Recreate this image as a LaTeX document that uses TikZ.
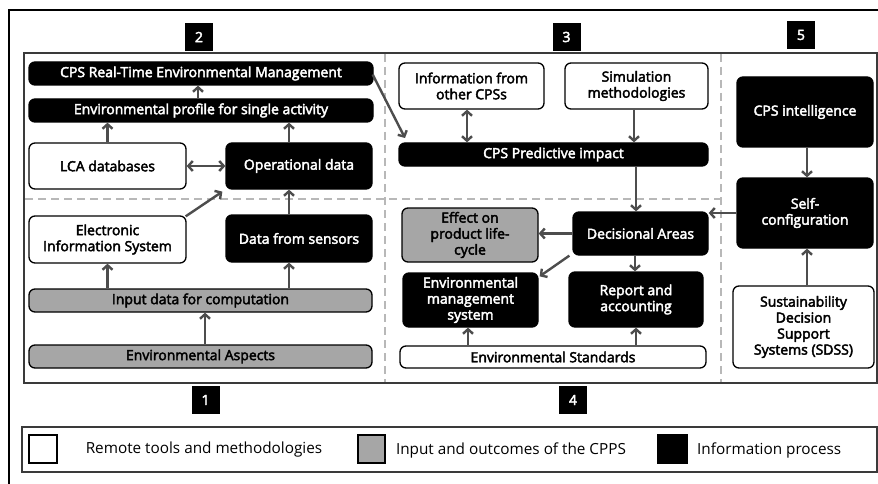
\documentclass[tikz,border=0pt]{standalone}
\usepackage{fontspec}
\setmainfont{Open Sans}
\newfontfamily\boxf{Open Sans}[FakeBold=3]
\usetikzlibrary{arrows.meta,calc}
\definecolor{arrc}{HTML}{4D4D4D}
\definecolor{gfill}{HTML}{A6A6A6}
\definecolor{dashc}{HTML}{B8B8B8}
\definecolor{framec}{HTML}{3A3A3A}
\begin{document}
\begin{tikzpicture}[x=1pt,y=-1pt,
  base/.style={rounded corners=6pt, line width=1.3pt, align=center, inner sep=1pt,
    font=\boxf\fontsize{14}{16}\selectfont},
  wbox/.style={base, draw=black, fill=white},
  gbox/.style={base, draw=black, fill=gfill},
  bbox/.style={base, draw=black, fill=black, text=white},
  arr/.style={draw=arrc, line width=2.4pt, -{Straight Barb[length=4.5pt,width=10pt]}},
  darr/.style={draw=arrc, line width=2.4pt, {Straight Barb[length=4.5pt,width=10pt]}-{Straight Barb[length=4.5pt,width=10pt]}},
  numbox/.style={fill=black, text=white, minimum width=28pt, minimum height=28pt, inner sep=0pt,
    font=\boxf\fontsize{14}{16}\selectfont},
  divider/.style={draw=dashc, line width=1.8pt, dash pattern=on 8pt off 5pt},
  legsq/.style={draw=black, line width=1.3pt},
  legtxt/.style={font=\fontsize{15.3}{18}\selectfont, inner sep=0pt}
]
\useasboundingbox (0,0) rectangle (878,484);
\fill[white] (0,0) rectangle (878,484);
% outer lines
\draw[line width=2.5pt] (9,484) -- (9,10) -- (878,10);
% main frame
\draw[framec, line width=1.5pt] (24,53) rectangle (877,383);
% dividers
\draw[divider] (385,54) -- (385,382);
\draw[divider] (721,54) -- (721,382);
\draw[divider] (25,199) -- (721,199);
% number labels
\node[numbox] (n2) at (199,37) {2};
\node[numbox] (n3) at (566.5,37) {3};
\node[numbox] (n5) at (801,35) {5};
\node[numbox] (n1) at (205.5,400) {1};
\node[numbox] (n4) at (573,400) {4};

% region 1/2
\node[bbox, minimum width=344pt, minimum height=23pt] (rt) at (201,73.5) {CPS Real-Time Environmental Management};
\node[bbox, minimum width=344pt, minimum height=23pt] (prof) at (201,110.5) {Environmental profile for single activity};
\node[wbox, minimum width=157pt, minimum height=46pt] (lca) at (107.5,166) {LCA databases};
\node[bbox, minimum width=146pt, minimum height=46pt] (op) at (299,166) {Operational data};
\node[wbox, minimum width=157pt, minimum height=47pt] (eis) at (107.5,239.5) {Electronic\\Information System};
\node[bbox, minimum width=146pt, minimum height=47pt] (sens) at (299,238.5) {Data from sensors};
\node[gbox, minimum width=343pt, minimum height=23pt] (inp) at (200.5,300.5) {Input data for computation};
\node[gbox, minimum width=343pt, minimum height=23pt] (asp) at (200.5,356.5) {Environmental Aspects};

% region 3/4
\node[wbox, minimum width=145pt, minimum height=46pt] (info) at (471.5,86) {Information from\\other CPSs};
\node[wbox, minimum width=143pt, minimum height=46pt] (sim) at (636.5,86) {Simulation\\methodologies};
\node[bbox, minimum width=309pt, minimum height=23pt] (pred) at (553.5,154.5) {CPS Predictive impact};
\node[bbox, minimum width=135pt, minimum height=43pt] (dec) at (640.5,233.5) {Decisional Areas};
\node[gbox, minimum width=136pt, minimum height=54pt] (eff) at (470,235) {Effect on\\product life-\\cycle};
\node[bbox, minimum width=135pt, minimum height=54pt] (ems) at (470.5,300) {Environmental\\management\\system};
\node[bbox, minimum width=134pt, minimum height=55pt] (rep) at (636,299.5) {Report and\\accounting};
\node[wbox, minimum width=306pt, minimum height=22pt] (std) at (553,357) {Environmental Standards};

% region 5
\node[bbox, minimum width=136pt, minimum height=70pt] (intel) at (805,112) {CPS intelligence};
\node[bbox, minimum width=136pt, minimum height=70pt] (self) at (805,213) {Self-\\configuration};
\node[wbox, minimum width=141pt, minimum height=82pt] (sdss) at (803.5,327) {Sustainability\\Decision\\Support\\Systems (SDSS)};

% arrows region 1/2
\draw[arr] (prof.north -| 198,0) -- (rt.south -| 198,0);
\draw[arr] (lca.north) -- (prof.south -| lca.north);
\draw[arr] (op.north -| 289,0) -- (prof.south -| 289,0);
\draw[darr] (lca.east) -- (op.west);
\draw[arr] ($(eis.north east)+(-1,1)$) -- ($(op.south west)+(-3,2)$);
\draw[arr] (sens.north -| 289,0) -- (op.south -| 289,0);
\draw[arr] (inp.north -| eis.south) -- (eis.south);
\draw[arr] (inp.north -| 289,0) -- (sens.south -| 289,0);
\draw[arr] (asp.north -| 205,0) -- (inp.south -| 205,0);
\coordinate (predin) at (405,138);
\draw[arr] ($(rt.east)+(-1,1)$) -- (predin);

% arrows region 3/4
\draw[darr] (info.south -| 467,0) -- (pred.north -| 467,0);
\draw[arr] (sim.south -| 634,0) -- (pred.north -| 634,0);
\draw[arr] (pred.south -| 636,0) -- (dec.north -| 636,0);
\draw[arr] (dec.west) -- (eff.east |- dec.west);
\draw[arr] ($(dec.south west)+(-3,0)$) -- ($(ems.north east)+(1,4)$);
\draw[arr] (dec.south -| 635,0) -- (rep.north -| 635,0);
\draw[arr] (std.north -| 468,0) -- (ems.south -| 468,0);
\draw[arr] (std.north -| 636,0) -- (rep.south -| 636,0);

% arrows region 5
\draw[arr] (intel.south -| 807,0) -- (self.north -| 807,0);
\draw[arr] (sdss.north -| 807,0) -- (self.south -| 807,0);
\draw[arr] (self.west) -- (dec.east |- self.west);

% legend
\draw[framec, line width=1.5pt] (22,427) rectangle (877,472);
\draw[legsq, fill=white] (29,435) rectangle (57,463);
\draw[legsq, fill=gfill] (358,435) rectangle (385,463);
\draw[legsq, fill=black] (658,435) rectangle (687,463);
\node[legtxt] (l1) at (204,450) {Remote tools and methodologies};
\node[legtxt] (l2) at (511,450) {Input and outcomes of the CPPS};
\node[legtxt, anchor=west] (l3) at (697,450) {Information process};
\end{tikzpicture}
\end{document}
